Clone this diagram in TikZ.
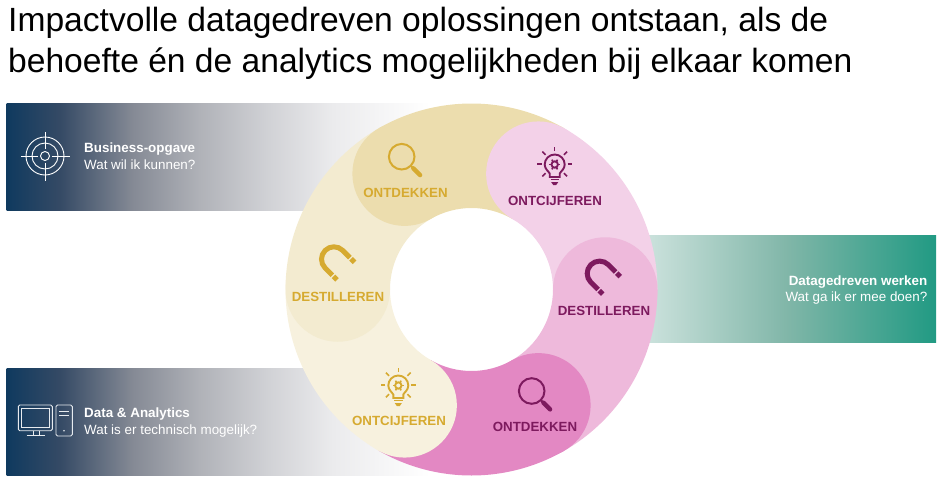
\documentclass[tikz,border=0pt]{standalone}
\usepackage{fontspec}
\setmainfont{Liberation Sans}
\usetikzlibrary{calc}
\definecolor{navybar}{HTML}{0F3A5F}
\definecolor{fadeone}{HTML}{354A65}
\definecolor{fadetwo}{HTML}{858A95}
\definecolor{fadethree}{HTML}{B0B2B8}
\definecolor{fadefour}{HTML}{D0D1D5}
\definecolor{fadefive}{HTML}{EBEBED}
\definecolor{tealbar}{HTML}{219A83}
\definecolor{midteal}{HTML}{80B6A8}
\definecolor{palebar}{HTML}{CFE4DF}
\definecolor{goldA}{HTML}{ECDDAE}
\definecolor{goldB}{HTML}{F3EBD0}
\definecolor{goldC}{HTML}{F7F1DE}
\definecolor{pinkA}{HTML}{F3D1E8}
\definecolor{pinkB}{HTML}{EEB9DB}
\definecolor{pinkC}{HTML}{E388C3}
\definecolor{goldtext}{HTML}{D6AA30}
\definecolor{plumtext}{HTML}{7D1A5E}
\pgfdeclarehorizontalshading{fadebar}{100bp}{color(0bp)=(navybar); color(25bp)=(navybar); color(31.3bp)=(fadeone);
    color(39.9bp)=(fadetwo); color(47.8bp)=(fadethree); color(55.7bp)=(fadefour); color(63.5bp)=(fadefive);
    color(75bp)=(white); color(100bp)=(white)}
\tikzset{
    titletext/.style = {anchor = base west, inner sep = 0pt, font = \fontsize{33.6}{40}\selectfont},
    barhead/.style = {inner sep = 0pt, text = white, font = \fontsize{13.4}{16}\selectfont\bfseries},
    barsub/.style = {inner sep = 0pt, text = white, font = \fontsize{13.4}{16}\selectfont},
    ringtext/.style = {anchor = base, inner sep = 0pt, font = \fontsize{13.3}{16}\selectfont\bfseries},
    pics/glass/.style = {code = {
        \draw [#1, line width = 2] (0,0) circle (12.8);
        \draw [#1, line width = 2] (-45:12.8) -- (-45:16);
        \draw [#1, line width = 4.4, line cap = round] (-45:16.5) -- (-45:26);
    }},
    pics/magnet/.style = {code = {
        \begin{scope}[rotate = -45]
            \draw [#1, line width = 5] (10.3,12.4) -- (0,12.4) arc [start angle = 90, end angle = 270, radius = 12.4] -- (10.3,-12.4);
            \fill [#1] (11.8,9.9) rectangle (16.8,14.9);
            \fill [#1] (11.8,-14.9) rectangle (16.8,-9.9);
        \end{scope}
    }},
    pics/bulb/.style = {code = {
        \foreach \angle in {0, 45, 90, 135, 180, 225, -45}
            \draw [#1, line width = 1.5] (\angle:13) -- (\angle:17.5);
        \draw [#1, line width = 1.9] (-5,-13) -- (-5,-9.5) .. controls (-6,-7.5) and (-10,-5) .. (-10,-.5) arc [start angle = 180, end angle = 0, radius = 10] .. controls (10,-5) and (6,-7.5) .. (5,-9.5) -- (5,-13) -- cycle;
        \draw [#1, line width = 1.5] (-4.2,-15.6) -- (4.2,-15.6);
        \fill [#1] (-3.6,-18) -- (3.6,-18) -- (1.5,-21) -- (-1.5,-21) -- cycle;
        \draw [#1, line width = 1.9] (0,-.5) circle (3.2);
        \foreach \angle in {0, 60, ..., 300}
            \draw [#1, line width = 1.6] ($(0,-.5)+(\angle:3.6)$) -- ($(0,-.5)+(\angle:5.6)$);
    }},
}
\begin{document}
\begin{tikzpicture}[x = 1pt, y = 1pt]
    \useasboundingbox (0,0) rectangle (945,-482);

    % Draw the bars behind the ring:
    \shade [shading = fadebar, shading angle = 0] (6.7,-103) rectangle (430,-210);
    \shade [shading = fadebar, shading angle = 0] (6.7,-368) rectangle (430,-475);
    \fill [left color = palebar, right color = tealbar, middle color = midteal] (640,-235) rectangle (936,-342);

    % Draw the ring segments and their round heads:
    \begin{scope}[shift = {(471.5,-289.5)}]
        \foreach \angle/\shade in {120/goldA, 60/pinkA, 0/pinkB, -60/pinkC, -120/goldC, -180/goldB}
            \fill [\shade] (\angle:186) arc [start angle = \angle, end angle = \angle-60, radius = 186]
                -- (\angle-60:81.5) arc [start angle = \angle-60, end angle = \angle, radius = 81.5] -- cycle;
        \foreach \angle/\shade in {120/goldA, 60/pinkA, 0/pinkB, -60/pinkC, -120/goldC, -180/goldB}
            \fill [\shade] (\angle:133.75) circle (52.25);
    \end{scope}

    % Draw the title:
    \node [titletext] (titleone) at (8,-31) {Impactvolle datagedreven oplossingen ontstaan, als de};
    \node [titletext] (titletwo) at (8,-72.7) {behoefte én de analytics mogelijkheden bij elkaar komen};

    % Draw the bar texts:
    \node [barhead, anchor = base west] (businesshead) at (84,-152.5) {Business-opgave};
    \node [barsub, anchor = base west] (businesssub) at (84,-169) {Wat wil ik kunnen?};
    \node [barhead, anchor = base west] (datahead) at (84,-417.5) {Data \& Analytics};
    \node [barsub, anchor = base west] (datasub) at (84,-434) {Wat is er technisch mogelijk?};
    \node [barhead, anchor = base east] (workhead) at (927.5,-285.7) {Datagedreven werken};
    \node [barsub, anchor = base east] (worksub) at (927.5,-301.7) {Wat ga ik er mee doen?};

    % Draw the ring labels:
    \node [ringtext, text = goldtext] (findgold) at (405.5,-197.3) {ONTDEKKEN};
    \node [ringtext, text = goldtext] (distilgold) at (338,-301.7) {DESTILLEREN};
    \node [ringtext, text = goldtext] (ciphergold) at (399,-425) {ONTCIJFEREN};
    \node [ringtext, text = plumtext] (cipherplum) at (555,-205.3) {ONTCIJFEREN};
    \node [ringtext, text = plumtext] (distilplum) at (604,-315.7) {DESTILLEREN};
    \node [ringtext, text = plumtext] (findplum) at (535,-431.7) {ONTDEKKEN};

    % Draw the ring icons:
    \pic at (401.7,-156.7) {glass = goldtext};
    \pic at (531.7,-391) {glass = plumtext};
    \pic at (333.9,-259.2) {magnet = goldtext};
    \pic at (599.6,-273.5) {magnet = plumtext};
    \pic at (398.3,-385) {bulb = goldtext};
    \pic at (554.7,-164) {bulb = plumtext};

    % Draw the target:
    \begin{scope}[shift = {(45,-156)}, white, line width = .9]
        \draw (0,0) circle (4.5);
        \draw (0,0) circle (13);
        \draw (0,0) circle (19);
        \foreach \angle in {0, 90, 180, 270}
            \draw (\angle:7) -- (\angle:24.5);
    \end{scope}

    % Draw the computer:
    \begin{scope}[white!90!navybar, line width = .9]
        \draw [rounded corners = 1.5] (18.3,-405) rectangle (52.3,-430.7);
        \draw (21.7,-408.3) rectangle (49,-427.3);
        \draw (33.3,-430.7) -- (33.3,-435.7) (39.3,-430.7) -- (39.3,-435.7);
        \draw (26.7,-435.7) -- (45,-435.7);
        \draw [rounded corners = 1.5] (56,-405) rectangle (72.3,-436);
        \draw (59.3,-411.7) -- (69,-411.7) (59.3,-415) -- (69,-415);
        \fill (64,-430.7) circle (.8);
    \end{scope}
\end{tikzpicture}
\end{document}
